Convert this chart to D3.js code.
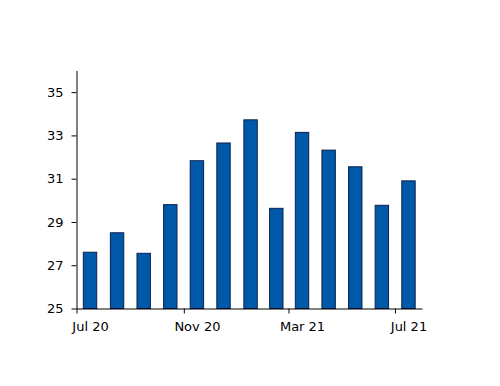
<!DOCTYPE html>
<html>
<head>
<style>
  body { margin: 0; background: #fff; }
  text { font-family: "DejaVu Sans", Verdana, sans-serif; }
</style>
</head>
<body>
<script src="https://cdn.jsdelivr.net/npm/d3@7"></script>
<script>
// monthly values, Jul 2020 .. Jul 2021
var months = ["2020-07", "2020-08", "2020-09", "2020-10", "2020-11", "2020-12",
              "2021-01", "2021-02", "2021-03", "2021-04", "2021-05", "2021-06", "2021-07"];
var values = [27.6, 28.5, 27.55, 29.8, 31.83, 32.65, 33.72, 29.63, 33.14, 32.32, 31.55, 29.77, 30.9];
var yTicks = [25, 27, 29, 31, 33, 35];
var xTickLabels = ["Jul 20", "Nov 20", "Mar 21", "Jul 21"];

var w = 500, h = 386;
var svg = d3.select("body").append("svg")
    .attr("width", w)
    .attr("height", h);

var parse = d3.timeParse("%Y-%m");
var data = months.map(function (m, i) { return { date: parse(m), value: values[i] }; });

var x = d3.scaleTime()
    .domain([parse("2020-07"), parse("2021-08")])
    .range([76.5, 422]);

var y = d3.scaleLinear()
    .domain([25, 36])
    .range([308.5, 70.5]);

function midMonth(d) {
    return (x(d) + x(d3.timeMonth.offset(d, 1))) / 2;
}

// bars, centered in the middle of each month
svg.append("g")
    .selectAll("rect")
    .data(data)
    .enter()
    .append("rect")
    .attr("x", function (d) { return midMonth(d.date) - 6.7; })
    .attr("y", function (d) { return y(d.value); })
    .attr("width", 13.4)
    .attr("height", function (d) { return y(25) - y(d.value); })
    .attr("fill", "#0059a8")
    .attr("stroke", "#0c1f4f")
    .attr("stroke-width", 1);

// X axis - ticks at month start, labels under the bar
var xTickDates = [parse("2020-07"), parse("2020-11"), parse("2021-03"), parse("2021-07")];
svg.append("g")
    .attr("transform", "translate(0," + y(25) + ")")
    .call(d3.axisBottom(x)
        .tickValues(xTickDates)
        .tickFormat(function (d, i) { return xTickLabels[i]; })
        .tickSize(5)
        .tickSizeOuter(0)
        .tickPadding(8))
    .selectAll(".tick text")
    .attr("x", function (d) { return midMonth(d) - x(d); });

// Y axis
svg.append("g")
    .attr("transform", "translate(" + x(parse("2020-07")) + ",0)")
    .call(d3.axisLeft(y)
        .tickValues(yTicks)
        .tickSize(5)
        .tickSizeOuter(0)
        .tickPadding(8));

svg.selectAll(".tick text")
    .attr("font-family", "'DejaVu Sans', Verdana, sans-serif")
    .attr("font-size", "13px")
    .attr("fill", "#000");
svg.selectAll(".domain, .tick line").attr("stroke", "#000");
</script>
</body>
</html>
